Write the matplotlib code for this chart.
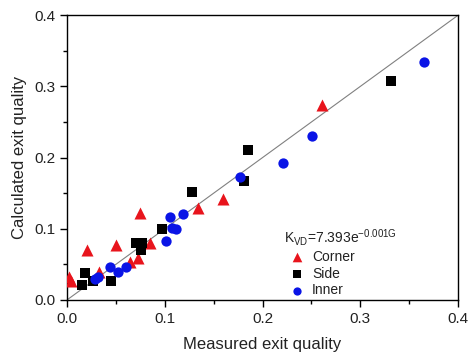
import matplotlib
matplotlib.use("Agg")
import matplotlib.pyplot as plt
from matplotlib.ticker import MultipleLocator

plt.rcParams['font.family'] = ['Liberation Sans', 'DejaVu Sans']
plt.rcParams['mathtext.fontset'] = 'custom'
plt.rcParams['mathtext.rm'] = 'Liberation Sans'
plt.rcParams['mathtext.it'] = 'Liberation Sans:italic'
plt.rcParams['mathtext.bf'] = 'Liberation Sans:bold'

corner_x = [0.002, 0.004, 0.021, 0.033, 0.050, 0.064, 0.073, 0.075, 0.085, 0.134, 0.160, 0.261]
corner_y = [0.032, 0.026, 0.070, 0.039, 0.077, 0.053, 0.059, 0.122, 0.080, 0.129, 0.142, 0.274]

side_x = [0.015, 0.018, 0.027, 0.045, 0.071, 0.077, 0.076, 0.097, 0.128, 0.181, 0.185, 0.331]
side_y = [0.021, 0.038, 0.027, 0.027, 0.080, 0.080, 0.070, 0.100, 0.152, 0.167, 0.211, 0.307]

inner_x = [0.029, 0.032, 0.044, 0.052, 0.060, 0.101, 0.105, 0.107, 0.112, 0.119, 0.177, 0.221, 0.251, 0.365]
inner_y = [0.029, 0.032, 0.046, 0.039, 0.046, 0.083, 0.116, 0.101, 0.100, 0.121, 0.173, 0.192, 0.230, 0.334]

ref_line = [0.0, 0.4]
title_text = r'K$_{\mathrm{VD}}$=7.393e$^{\mathrm{-0.001G}}$'

txt = '#222222'
fig = plt.figure(figsize=(4.68, 3.61), dpi=100)
ax = fig.add_axes([0.143, 0.169, 0.836, 0.789])

ax.plot(ref_line, ref_line, color='#808080', lw=0.8, zorder=1)
ax.scatter(corner_x, corner_y, marker='^', s=75, color='#e8141c', linewidths=0, label='Corner', zorder=3)
ax.scatter(side_x, side_y, marker='s', s=42, color='black', linewidths=0, label='Side', zorder=3)
ax.scatter(inner_x, inner_y, marker='o', s=55, color='#0a14e6', linewidths=0, label='Inner', zorder=3)

ax.set_xlim(0, 0.4)
ax.set_ylim(0, 0.4)
ax.xaxis.set_major_locator(MultipleLocator(0.1))
ax.yaxis.set_major_locator(MultipleLocator(0.1))
ax.xaxis.set_minor_locator(MultipleLocator(0.05))
ax.yaxis.set_minor_locator(MultipleLocator(0.05))
ax.tick_params(which='both', direction='out', labelsize=11, colors='black', labelcolor=txt)
ax.tick_params(which='major', length=5, width=1)
ax.tick_params(which='minor', length=3, width=1)
ax.xaxis.set_major_formatter(plt.FuncFormatter(lambda v, p: f"{v:.1f}"))
ax.yaxis.set_major_formatter(plt.FuncFormatter(lambda v, p: f"{v:.1f}"))
for sp in ax.spines.values():
    sp.set_linewidth(1)

ax.set_xlabel('Measured exit quality', fontsize=12, labelpad=8, color=txt)
ax.set_ylabel('Calculated exit quality', fontsize=12, labelpad=5, color=txt)

ax.text(0.556, 0.218, title_text, transform=ax.transAxes, fontsize=10, color=txt,
        ha='left', va='center')

leg = ax.legend(loc='upper left', bbox_to_anchor=(0.570, 0.176), frameon=False, fontsize=10,
                handlelength=1.0, handletextpad=0.6, labelspacing=0.2, markerscale=0.8,
                borderaxespad=0.0, borderpad=0.0)
for t in leg.get_texts():
    t.set_color(txt)

fig.savefig('out.png', dpi=100)
